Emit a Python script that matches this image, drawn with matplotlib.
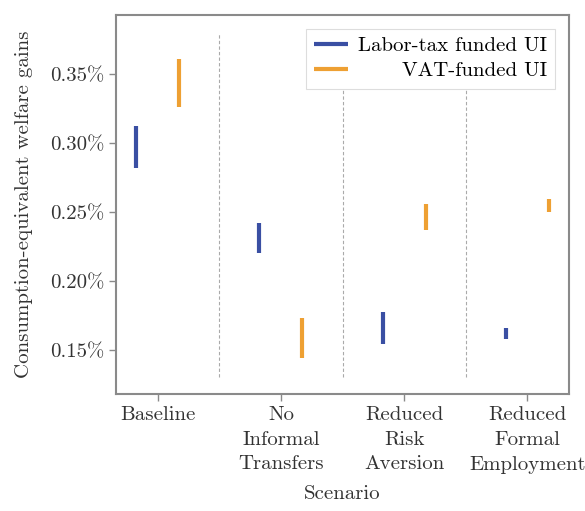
import matplotlib
matplotlib.use("Agg")
import matplotlib.pyplot as plt
import numpy as np

# scenarios and welfare-gain ranges (in %)
scenarios = ["Baseline", "No\nInformal\nTransfers", "Reduced\nRisk\nAversion",
             "Reduced\nFormal\nEmployment"]
labor_low = [0.2819, 0.2203, 0.1543, 0.1580]
labor_high = [0.3123, 0.2420, 0.1775, 0.1660]
vat_low = [0.3261, 0.1442, 0.2370, 0.2500]
vat_high = [0.3609, 0.1732, 0.2558, 0.2594]

plt.rcParams["font.family"] = "cmr10"
plt.rcParams["mathtext.fontset"] = "cm"
plt.rcParams["axes.formatter.use_mathtext"] = True

blue = "#3a4fa3"
orange = "#eea033"
grey = "#8a8a8a"
fs = 15

fig = plt.figure(figsize=(5.85, 5.11), dpi=100)
ax = fig.add_axes([116 / 585, 1 - 394 / 511, 453 / 585, 379 / 511])

x = np.arange(len(scenarios))
off = 0.175
ax.vlines(x - off, labor_low, labor_high, color=blue, lw=3, label="Labor-tax funded UI")
ax.vlines(x + off, vat_low, vat_high, color=orange, lw=3, label="VAT-funded UI")

# separators between scenarios
ax.vlines(x[:-1] + 0.5, 0.13, 0.38, color="#aaaaaa", lw=0.8, linestyles=(0, (3, 2)))

ax.set_xlim(-0.34, 3.34)
ax.set_ylim(0.118, 0.393)
ax.set_xticks(x)
ax.set_xticklabels(scenarios, fontsize=fs, color="#333333", linespacing=1.5)
yt = [0.15, 0.20, 0.25, 0.30, 0.35]
ax.set_yticks(yt)
ax.set_yticklabels(["%.2f%%" % v for v in yt], fontsize=fs, color="#333333")
ax.tick_params(color=grey, length=5, width=1)
for s in ax.spines.values():
    s.set_color(grey)
    s.set_linewidth(1.5)

ax.set_xlabel("Scenario", fontsize=fs, color="#333333", labelpad=8)
ax.set_ylabel("Consumption-equivalent welfare gains", fontsize=fs, color="#333333", labelpad=12)

leg = ax.legend(loc="upper right", fontsize=fs, frameon=True, fancybox=False,
                edgecolor="#dddddd", framealpha=1, handlelength=1.6,
                borderaxespad=0.65, labelspacing=0.3, handletextpad=0.5,
                borderpad=0.4)
leg.get_frame().set_linewidth(0.8)
for h in leg.legend_handles:
    h.set_linewidth(3)

# right-align the legend labels
renderer = fig.canvas.get_renderer()
widths = [t.get_window_extent(renderer).width for t in leg.get_texts()]
for t, w in zip(leg.get_texts(), widths):
    t.set_position((max(widths) - w, 0))

fig.savefig("out.png", dpi=100)
